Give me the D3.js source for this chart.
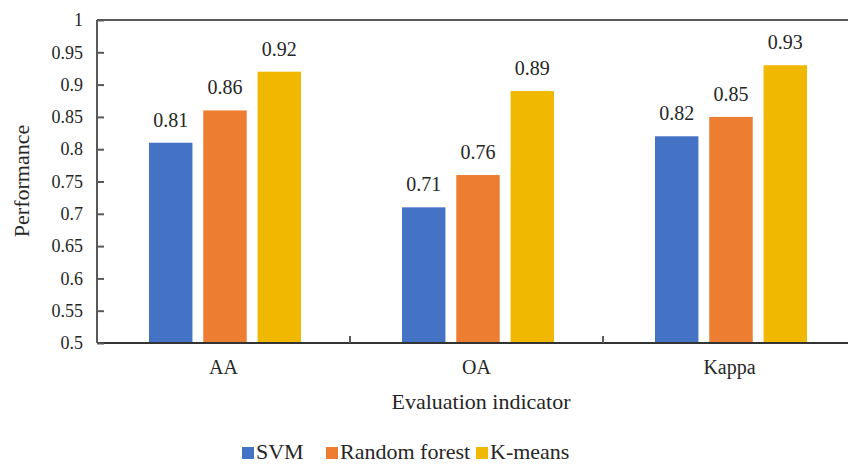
<!DOCTYPE html>
<html>
<head>
<meta charset="utf-8">
<script src="https://cdn.jsdelivr.net/npm/d3@7"></script>
<style>
  body { margin: 0; background: #fff; }
  text { font-family: "Liberation Serif", serif; }
</style>
</head>
<body>
<svg id="chart" width="848" height="465"></svg>
<script>
const categories = ["AA", "OA", "Kappa"]
const seriesNames = ["SVM", "Random forest", "K-means"]
const svmValues = [0.81, 0.71, 0.82]
const rfValues = [0.86, 0.76, 0.85]
const kmValues = [0.92, 0.89, 0.93]
const yTicks = [0.5, 0.55, 0.6, 0.65, 0.7, 0.75, 0.8, 0.85, 0.9, 0.95, 1]
const colors = ["#4472C4", "#ED7D31", "#F0B800"]
const serif = "Liberation Serif, DejaVu Serif, serif"

const svg = d3.select("#chart")
const margin = { top: 20, left: 97 }
const plotW = 759, plotH = 323

// rows for every series
const series = [svmValues, rfValues, kmValues]
const rows = categories.map((c, i) => ({
    cat: c,
    vals: series.map((s, j) => ({ name: seriesNames[j], v: s[i], k: j }))
}))

const x = d3.scaleBand().domain(categories).range([0, plotW])
const xInner = d3.scaleBand().domain(d3.range(3)).range([52, 204]).paddingInner(0.2)
const y = d3.scaleLinear().domain([0.5, 1]).range([plotH, 0])

const g = svg.append("g").attr("transform", "translate(" + margin.left + "," + margin.top + ")")

// bars
const groups = g.selectAll(".grp").data(rows).enter().append("g")
    .attr("transform", d => "translate(" + x(d.cat) + ",0)")

groups.selectAll("rect").data(d => d.vals).enter().append("rect")
    .attr("x", d => xInner(d.k))
    .attr("width", xInner.bandwidth())
    .attr("y", d => y(d.v))
    .attr("height", d => plotH - y(d.v))
    .attr("fill", d => colors[d.k])

groups.selectAll("text").data(d => d.vals).enter().append("text")
    .attr("x", d => xInner(d.k) + xInner.bandwidth() / 2)
    .attr("y", d => y(d.v) - 16)
    .attr("text-anchor", "middle")
    .attr("font-size", "20px")
    .attr("fill", "#262626")
    .text(d => d.v)

// axes
const axisColor = "#595959"
g.append("line").attr("x1", 0).attr("x2", plotW).attr("y1", 0).attr("y2", 0)
    .attr("stroke", axisColor).attr("stroke-width", 2)
g.append("line").attr("x1", 0).attr("x2", plotW).attr("y1", plotH).attr("y2", plotH)
    .attr("stroke", "#333").attr("stroke-width", 2)
g.append("line").attr("x1", 0).attr("x2", 0).attr("y1", 0).attr("y2", plotH)
    .attr("stroke", axisColor).attr("stroke-width", 2)

const yAxis = g.append("g")
    .call(d3.axisRight(y).tickValues(yTicks).tickSize(7).tickFormat(d3.format("")))
yAxis.attr("font-family", null)
yAxis.select(".domain").remove()
yAxis.selectAll(".tick line").attr("stroke", axisColor).attr("stroke-width", 2)
yAxis.selectAll(".tick text")
    .attr("x", -14).attr("text-anchor", "end")
    .attr("font-size", "18px")
    .attr("fill", "#262626")

// category ticks (upward, between groups)
g.selectAll(".ctick").data(categories.slice(1)).enter().append("line")
    .attr("x1", d => x(d)).attr("x2", d => x(d))
    .attr("y1", plotH - 7).attr("y2", plotH)
    .attr("stroke", axisColor).attr("stroke-width", 2)

g.selectAll(".clab").data(categories).enter().append("text")
    .attr("x", d => x(d) + x.bandwidth() / 2)
    .attr("y", plotH + 31)
    .attr("text-anchor", "middle")
    .attr("font-size", "20px")
    .attr("fill", "#262626")
    .text(d => d)

// axis titles
svg.append("text")
    .attr("x", 481).attr("y", 409)
    .attr("text-anchor", "middle").attr("font-size", "22px").attr("fill", "#262626")
    .text("Evaluation indicator")

svg.append("text")
    .attr("transform", "translate(29,181) rotate(-90)")
    .attr("text-anchor", "middle").attr("font-size", "22px").attr("fill", "#262626")
    .text("Performance")

// legend
const legX = [242, 326, 476]
const leg = svg.selectAll(".leg").data(seriesNames).enter().append("g")
    .attr("transform", (d, i) => "translate(" + legX[i] + ",447)")
leg.append("rect").attr("width", 12).attr("height", 12).attr("fill", (d, i) => colors[i])
leg.append("text").attr("x", 14).attr("y", 12).attr("font-size", "22px").attr("fill", "#262626")
    .text(d => d)

// serif everywhere
svg.selectAll("text").attr("font-family", serif)
</script>
</body>
</html>
